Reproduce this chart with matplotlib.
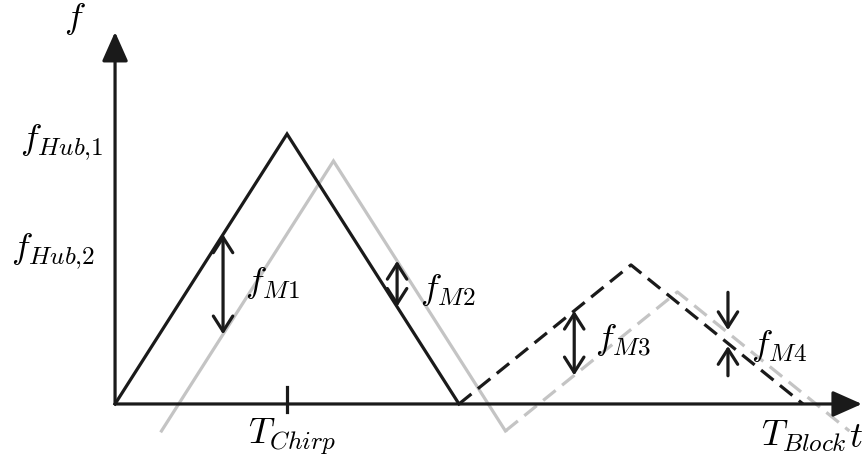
import numpy as np
import matplotlib.pyplot as plt

plt.rcParams['mathtext.fontset'] = 'cm'

# Sendechirps (Zeit in T_Chirp, Frequenz relativ zu f_Hub,1)
t_tx1 = [0.0, 1.0, 2.0]
f_tx1 = [0.0, 1.0, 0.0]
t_tx2 = [2.0, 3.0, 4.0]
f_tx2 = [0.0, 0.515, 0.0]

# Empfangene Echos (verzoegert und dopplerverschoben)
t_rx1 = [0.27, 1.27, 2.27]
f_rx1 = [-0.10, 0.90, -0.10]
t_rx2 = [2.27, 3.27, 4.27]
f_rx2 = [-0.10, 0.415, -0.10]

# Zeitpunkte der Mischfrequenzen
t_m = [0.628, 1.64, 2.67, 3.564]

fig = plt.figure(figsize=(8.64, 4.56), dpi=100)
ax = fig.add_axes([0, 0, 1, 1])
ax.set_xlim(-0.669, 4.355)
ax.set_ylim(-0.189, 1.5)
ax.axis('off')

lw = 2.3
schwarz = '#1a1a1a'
grau = '#c4c4c4'

ax.plot(t_tx1, f_tx1, color=schwarz, lw=lw, solid_joinstyle='miter', zorder=3)
ax.plot(t_rx1, f_rx1, color=grau, lw=lw, solid_joinstyle='miter', zorder=2)
ax.plot(t_tx2, f_tx2, color=schwarz, lw=lw, ls=(0, (5, 2.6)), zorder=3)
ax.plot(t_rx2, f_rx2, color=grau, lw=lw, ls=(0, (5, 2.6)), zorder=2)

# Achsen
pfeil = dict(arrowstyle='-|>,head_length=0.9,head_width=0.4', color=schwarz,
             lw=2.3, mutation_scale=20, shrinkA=0, shrinkB=0)
ax.annotate('', xy=(0, 1.378), xytext=(0, 0), arrowprops=pfeil, zorder=4)
ax.annotate('', xy=(4.343, 0), xytext=(0, 0), arrowprops=pfeil, zorder=4)
ax.plot([1, 1], [-0.03, 0.063], color=schwarz, lw=2.3, zorder=4)

# Doppelpfeile fuer f_M1..f_M3
doppel = dict(arrowstyle='<->,head_length=0.55,head_width=0.35', color=schwarz,
              lw=2.3, mutation_scale=20, shrinkA=0, shrinkB=0)
paare = [(t_tx1, f_tx1, t_rx1, f_rx1), (t_tx1, f_tx1, t_rx1, f_rx1),
         (t_tx2, f_tx2, t_rx2, f_rx2)]
for t, (ta, fa, tb, fb) in zip(t_m[:3], paare):
    fa_t = np.interp(t, ta, fa)
    fb_t = np.interp(t, tb, fb)
    ax.annotate('', xy=(t, fa_t), xytext=(t, fb_t), arrowprops=doppel, zorder=5)

# f_M4: zwei Pfeile von aussen
einfach = dict(arrowstyle='->,head_length=0.55,head_width=0.35', color=schwarz,
               lw=2.3, mutation_scale=20, shrinkA=0, shrinkB=0)
f_oben = np.interp(t_m[3], t_rx2, f_rx2)
f_unten = np.interp(t_m[3], t_tx2, f_tx2)
ax.annotate('', xy=(t_m[3], f_oben + 0.01), xytext=(t_m[3], f_oben + 0.15),
            arrowprops=einfach, zorder=5)
ax.annotate('', xy=(t_m[3], f_unten - 0.01), xytext=(t_m[3], f_unten - 0.12),
            arrowprops=einfach, zorder=5)

fs = 26
ax.text(-0.233, 1.43, '$f$', fontsize=fs, ha='center', va='center')
ax.text(-0.064, 0.975, '$f_{Hub{,}1}$', fontsize=fs, ha='right', va='center')
ax.text(-0.116, 0.57, '$f_{Hub{,}2}$', fontsize=fs, ha='right', va='center')
ax.text(0.756, 0.45, '$f_{M1}$', fontsize=fs, ha='left', va='center')
ax.text(1.773, 0.425, '$f_{M2}$', fontsize=fs, ha='left', va='center')
ax.text(2.79, 0.24, '$f_{M3}$', fontsize=fs, ha='left', va='center')
ax.text(3.70, 0.22, '$f_{M4}$', fontsize=fs, ha='left', va='center')
ax.text(1.03, -0.118, '$T_{Chirp}$', fontsize=fs, ha='center', va='center')
ax.text(4.256, -0.118, '$T_{Block}$', fontsize=fs, ha='right', va='center')
ax.text(4.27, -0.118, '$t$', fontsize=fs, ha='left', va='center')

fig.savefig('out.png', dpi=100)
